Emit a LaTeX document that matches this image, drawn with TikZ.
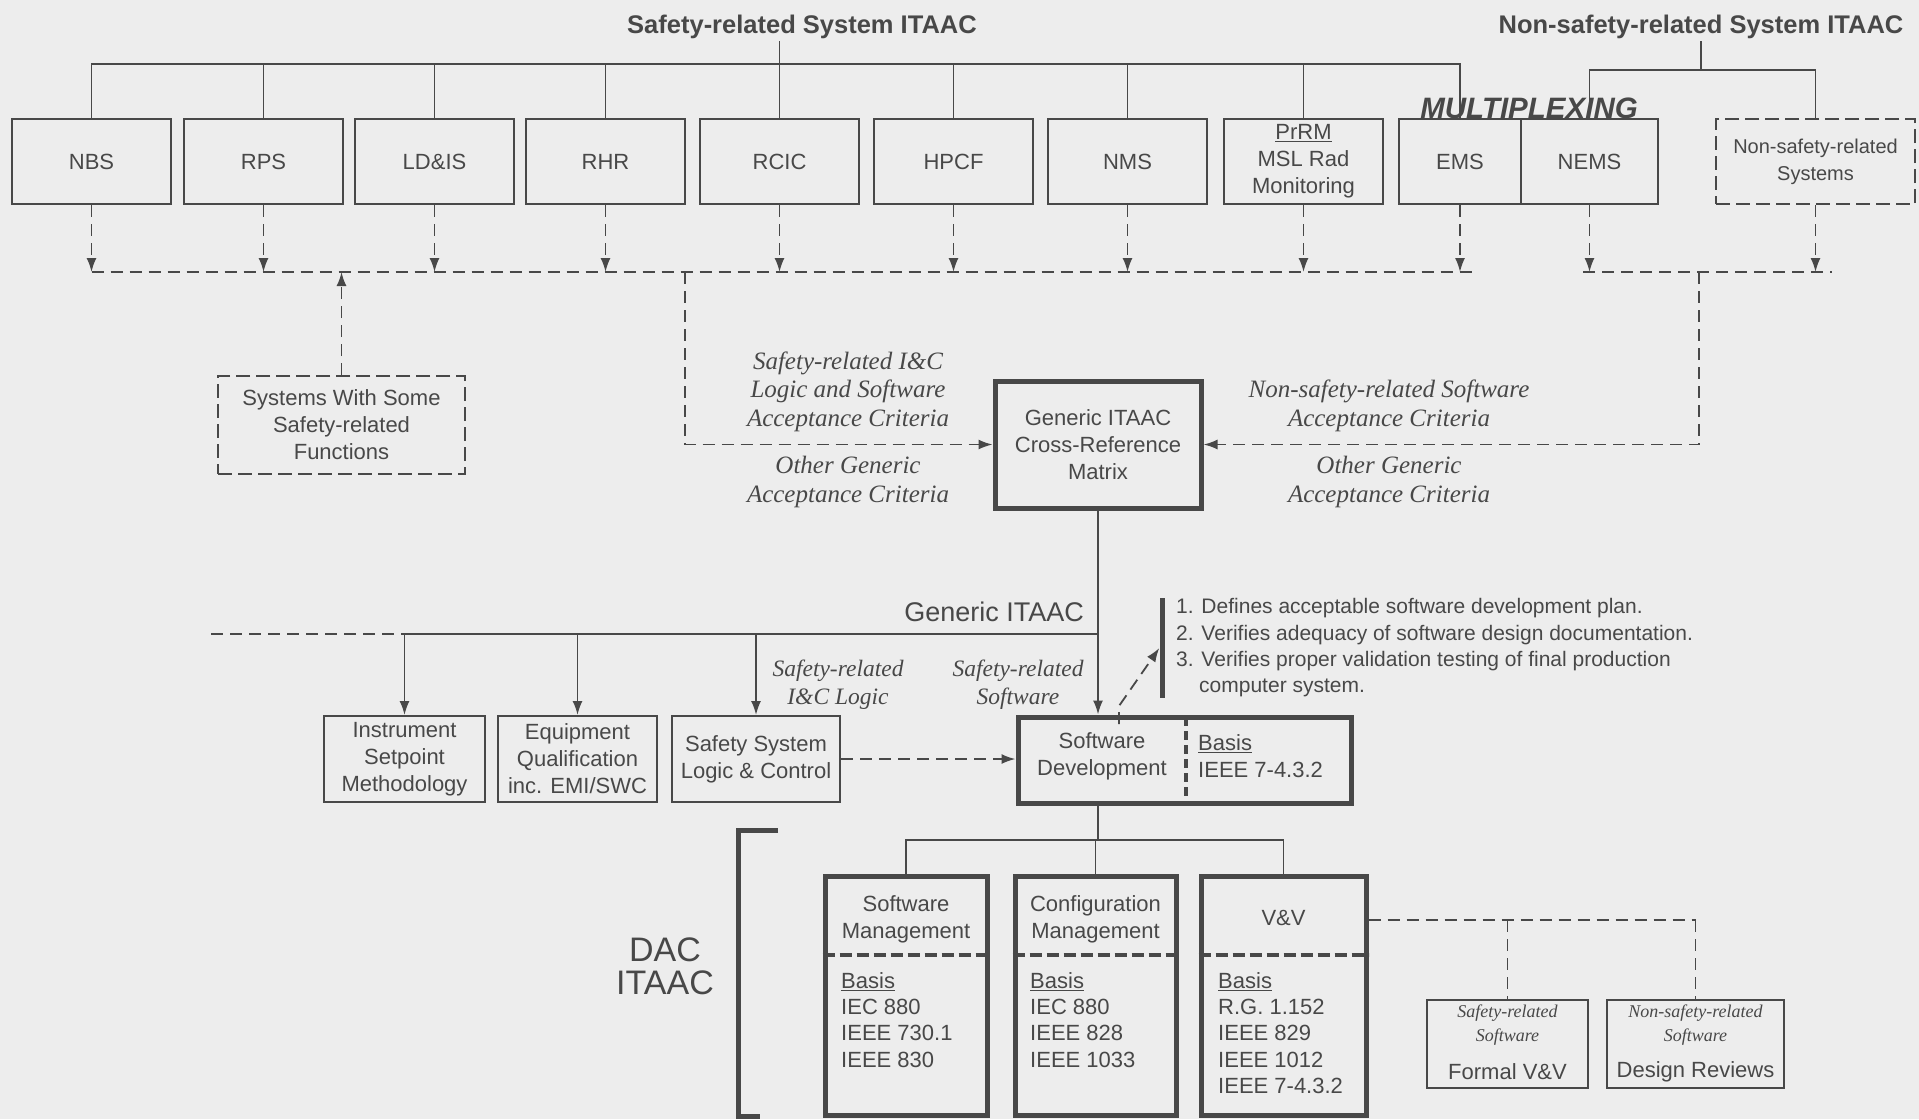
\documentclass[tikz,border=0pt]{standalone}
\usepackage{fontspec}
\setmainfont{Liberation Sans}
\newfontfamily\serifface{Liberation Serif}
\usetikzlibrary{arrows.meta}
\definecolor{ink}{RGB}{72,72,72}
\definecolor{paper}{RGB}{237,237,237}
\begin{document}
\begin{tikzpicture}[x=1pt,y=-1pt,
  sysbox/.style={draw=ink, line width=2pt, inner sep=0pt, minimum height=85pt, align=center, text=ink, font=\fontsize{22}{27}\selectfont},
  dbox/.style={sysbox, dash pattern=on 14pt off 6pt},
  heavy/.style={draw=ink, line width=5pt, inner sep=0pt, align=center, text=ink, font=\fontsize{22}{27}\selectfont},
  lbl/.style={text=ink, inner sep=0pt, align=center, font=\fontsize{22}{27}\selectfont},
  lft/.style={text=ink, inner sep=0pt, align=left, font=\fontsize{22}{26.3}\selectfont},
  itl/.style={text=ink, inner sep=0pt, align=center, font=\serifface\itshape\fontsize{25}{28.5}\selectfont},
  smit/.style={text=ink, inner sep=0pt, align=center, font=\serifface\itshape\fontsize{18}{24}\selectfont},
  listtxt/.style={text=ink, inner sep=0pt, anchor=west, font=\fontsize{21}{26}\selectfont},
  conn/.style={draw=ink, line width=1.8pt},
  dconn/.style={conn, dash pattern=on 12pt off 7pt},
  arr/.style={-{Latex[length=14pt,width=10pt]}},
  ttl/.style={text=ink, inner sep=2pt, font=\bfseries\fontsize{25.5}{30}\selectfont},
  divline/.style={draw=ink, line width=4pt, dash pattern=on 12pt off 5pt},
]
\fill[paper] (0,0) rectangle (1919,1119);
\useasboundingbox (0,0) rectangle (1919,1119);

% ---------- titles ----------
\node[ttl] (stitle) at (802,27) {Safety-related System ITAAC};
\node[ttl] (ntitle) at (1701,27) {Non-safety-related System ITAAC};

% ---------- top row of systems ----------
\node[sysbox, minimum width=159pt] (nbs)  at (91.5,161.5)  {NBS};
\node[sysbox, minimum width=159pt] (rps)  at (263.5,161.5) {RPS};
\node[sysbox, minimum width=159pt] (ldis) at (434.5,161.5) {LD\&IS};
\node[sysbox, minimum width=159pt] (rhr)  at (605.5,161.5) {RHR};
\node[sysbox, minimum width=159pt] (rcic) at (779.5,161.5) {RCIC};
\node[sysbox, minimum width=159pt] (hpcf) at (953.5,161.5) {HPCF};
\node[sysbox, minimum width=159pt] (nms)  at (1127.5,161.5) {NMS};
\node[sysbox, minimum width=159pt] (prrm) at (1303.5,161.5) {\underline{PrRM}\\MSL Rad\\Monitoring};
\node[sysbox, minimum width=122pt] (ems)  at (1460,161.5) {EMS};
\node[sysbox, minimum width=137pt] (nems) at (1589.5,161.5) {NEMS};
\node[dbox, minimum width=199pt, font=\fontsize{20}{27}\selectfont] (nsr) at (1815.5,161.5) {Non-safety-related\\Systems};
\node[text=ink, inner sep=0pt, font=\bfseries\itshape\fontsize{29.5}{30}\selectfont] (mux) at (1529,108) {MULTIPLEXING};

% ---------- top buses ----------
\coordinate (sbus) at (0,64);
\coordinate (nbus) at (0,70);
\coordinate (lbus) at (0,272);
\draw[conn] (nbs.north) -- (nbs.north |- sbus) -- (ems.north |- sbus) -- (ems.north);
\foreach \b in {rps,ldis,rhr,rcic,hpcf,nms,prrm}
  \draw[conn] (\b.north) -- (\b.north |- sbus);
\draw[conn] (rcic.north |- sbus) -- (rcic.north |- stitle.south);
\draw[conn] (nems.north) -- (nems.north |- nbus) -- (nsr.north |- nbus) -- (nsr.north);
\draw[conn] (ntitle.south) -- (ntitle.south |- nbus);

% ---------- arrows down to lower buses ----------
\foreach \b in {nbs,rps,ldis,rhr,rcic,hpcf,nms,prrm,ems,nems,nsr}
  \draw[dconn,arr] (\b.south) -- (\b.south |- lbus);
\coordinate (sbe) at (1478,272);
\draw[dconn] (nbs.south |- lbus) -- (sbe);
\coordinate (nbst) at (1583,272);
\coordinate (nbe) at (1832,272);
\draw[dconn] (nbst) -- (nbe);
\coordinate (sdrop) at (685,272);
\coordinate (ndrop) at (1699,272);

% ---------- systems with some safety-related functions ----------
\node[dbox, minimum width=247pt, minimum height=98pt] (swss) at (341.5,425) {Systems With Some\\Safety-related\\Functions};
\draw[dconn,arr] (swss.north) -- (swss.north |- lbus);

% ---------- generic ITAAC matrix ----------
\node[heavy, minimum width=206pt, minimum height=127pt] (gen) at (1098,444.5) {Generic ITAAC\\Cross-Reference\\Matrix};
\draw[dconn,arr] (sdrop) |- (gen.west);
\draw[dconn,arr] (ndrop) |- (gen.east);

\node[itl] (lab1) at (848,391.5) {Safety-related I\&C\\Logic and Software\\Acceptance Criteria};
\node[itl] (lab2) at (848,482) {Other Generic\\Acceptance Criteria};
\node[itl] (lab3) at (1389,406) {Non-safety-related Software\\Acceptance Criteria};
\node[itl] (lab4) at (1389,482) {Other Generic\\Acceptance Criteria};

% ---------- generic ITAAC bus ----------
\node[lbl, anchor=east, font=\fontsize{27}{30}\selectfont] (gil) at (1084,612) {Generic ITAAC};
\node[sysbox, minimum width=161pt, minimum height=86pt] (ism)  at (404.5,759) {Instrument\\Setpoint\\Methodology};
\node[sysbox, minimum width=159pt, minimum height=86pt] (eq)   at (577.5,759) {Equipment\\Qualification\\inc. EMI/SWC};
\node[sysbox, minimum width=168pt, minimum height=86pt] (sslc) at (756,759)   {Safety System\\Logic \& Control};
\node[heavy, minimum width=333pt, minimum height=86pt] (swd) at (1184.5,760) {};
\node[lbl] (swdt) at (1102,756) {Software\\Development};
\node[lft, anchor=west] (swdb) at (1198,756) {\underline{Basis}\\IEEE 7-4.3.2};
\coordinate (dvt) at (1186,717);
\coordinate (dvb) at (1186,803);
\draw[divline, dash pattern=on 9pt off 5pt] (dvt) -- (dvb);

\coordinate (gbl) at (211,634);
\draw[dconn] (gbl) -- (ism.north |- gbl);
\draw[conn] (ism.north |- gbl) -- (gen.south |- gbl);
\draw[conn,arr] (gen.south) -- (gen.south |- swd.north);
\foreach \b in {ism,eq,sslc}
  \draw[conn,arr] (\b.north |- gbl) -- (\b.north);
\draw[dconn,arr] (sslc.east) -- (swd.west |- sslc.east);

\node[itl, font=\serifface\itshape\fontsize{23.5}{28}\selectfont] (lab5) at (838,685) {Safety-related\\I\&C Logic};
\node[itl, font=\serifface\itshape\fontsize{23.5}{28}\selectfont] (lab6) at (1018,685) {Safety-related\\Software};

% ---------- numbered list ----------
\node[fill=ink, minimum width=5pt, minimum height=100pt, inner sep=0pt] (bar) at (1162,648) {};
\node[listtxt] (l1) at (1176,608) {1. Defines acceptable software development plan.};
\node[listtxt] (l2) at (1176,635) {2. Verifies adequacy of software design documentation.};
\node[listtxt] (l3) at (1176,661) {3. Verifies proper validation testing of final production};
\node[listtxt] (l4) at (1199,688) {computer system.};
\coordinate (tick) at (1119,724);
\draw[dconn,arr] (tick) -- ++(0,-18) -- (bar.west);

% ---------- DAC ITAAC ----------
\node[lbl, font=\fontsize{34}{33}\selectfont] (dac) at (665,966) {DAC\\ITAAC};
\coordinate (bt) at (778,830);
\coordinate (bb) at (760,1116);
\draw[ink, line width=5pt] (bt) -- (738,830) -- (738,1116) -- (bb);

\coordinate (mbus) at (0,840);
\node[heavy, minimum width=162pt, minimum height=239pt] (swm) at (906,995.5) {};
\node[heavy, minimum width=161pt, minimum height=239pt] (cm)  at (1095.5,995.5) {};
\node[heavy, minimum width=165pt, minimum height=239pt] (vv)  at (1283.5,995.5) {};
\draw[conn] (swd.south -| gen.south) -- (gen.south |- mbus);
\draw[conn] (swm.north) -- (swm.north |- mbus) -- (vv.north |- mbus) -- (vv.north);
\draw[conn] (cm.north |- mbus) -- (cm.north);

\coordinate (divy) at (0,955);
\foreach \b in {swm,cm,vv}
  \draw[divline] (\b.west |- divy) -- (\b.east |- divy);

\node[lbl] (swmt) at (906,919.5) {Software\\Management};
\node[lbl] (cmt) at (1095.5,919.5) {Configuration\\Management};
\node[lbl] (vvt) at (1283.5,918) {V\&V};
\node[lft, anchor=north west] (swmb) at (841,972) {\underline{Basis}\\IEC 880\\IEEE 730.1\\IEEE 830};
\node[lft, anchor=north west] (cmb) at (1030,972) {\underline{Basis}\\IEC 880\\IEEE 828\\IEEE 1033};
\node[lft, anchor=north west] (vvb) at (1218,972) {\underline{Basis}\\R.G. 1.152\\IEEE 829\\IEEE 1012\\IEEE 7-4.3.2};

% ---------- V&V branches ----------
\coordinate (vline) at (0,920);
\node[sysbox, minimum width=161pt, minimum height=88pt] (fvv) at (1507.5,1044) {};
\node[sysbox, minimum width=177pt, minimum height=88pt] (dr)  at (1695.5,1044) {};
\draw[dconn] (vv.east |- vline) -- (dr.north |- vline);
\draw[dconn] (fvv.north |- vline) -- (fvv.north);
\draw[dconn] (dr.north |- vline) -- (dr.north);
\node[smit] (fvvt) at (1507.5,1025) {Safety-related\\Software};
\node[lbl] (fvvb) at (1507.5,1072) {Formal V\&V};
\node[smit] (drt) at (1695.5,1025) {Non-safety-related\\Software};
\node[lbl] (drb) at (1695.5,1072) {Design Reviews};
\end{tikzpicture}
\end{document}
